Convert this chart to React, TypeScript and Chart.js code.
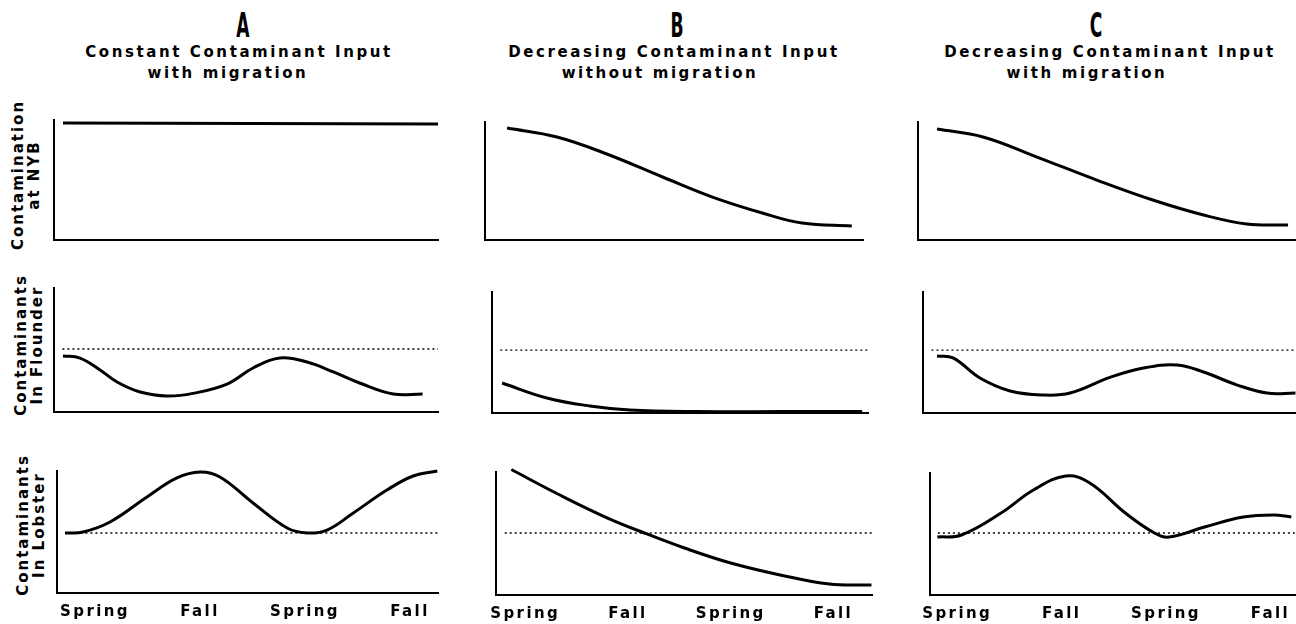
import React, { useEffect, useRef } from "react";
import { Chart, registerables } from "chart.js";

Chart.register(...registerables);

// ---------- data ----------
const seasonLabels = ["Spring", "Fall", "Spring", "Fall"];
const seasonTicks = [1, 2, 3, 4];

const columnHeads = ["A", "B", "C"];
const columnLine1 = [
  "Constant Contaminant Input",
  "Decreasing Contaminant Input",
  "Decreasing Contaminant Input",
];
const columnLine2 = ["with migration", "without migration", "with migration"];

const rowTitle1 = ["Contamination", "Contaminants", "Contaminants"];
const rowTitle2 = ["at NYB", "In Flounder", "In Lobster"];

// Column A: constant input, with migration
const aNybX = [0.695, 2.5, 4.267];
const aNybY = [0.975, 0.971, 0.967];
const aFlounderX = [0.695, 0.857, 1.048, 1.21, 1.43, 1.686, 1.933, 2.257, 2.505, 2.76, 3.02, 3.27, 3.52, 3.84, 4.12];
const aFlounderY = [0.452, 0.435, 0.339, 0.242, 0.161, 0.129, 0.15, 0.225, 0.355, 0.435, 0.403, 0.323, 0.234, 0.145, 0.145];
const aFlounderRef = 0.508;
const aLobsterX = [0.714, 0.886, 1.143, 1.495, 1.78, 2.0, 2.19, 2.505, 2.83, 3.02, 3.21, 3.46, 3.78, 4.03, 4.26];
const aLobsterY = [0.492, 0.5, 0.582, 0.787, 0.943, 0.992, 0.951, 0.738, 0.533, 0.492, 0.516, 0.656, 0.844, 0.959, 1.0];
const aLobsterRef = 0.492;

// Column B: decreasing input, without migration
const bNybX = [0.856, 1.337, 1.817, 2.356, 2.837, 3.317, 3.7, 4.18];
const bNybY = [0.949, 0.873, 0.729, 0.534, 0.364, 0.229, 0.144, 0.119];
const bFlounderX = [0.808, 1.24, 1.654, 2.04, 2.68, 3.5, 4.28];
const bFlounderY = [0.248, 0.124, 0.058, 0.025, 0.012, 0.012, 0.012];
const bFlounderRef = 0.52;
const bLobsterX = [0.865, 1.337, 1.78, 2.16, 2.55, 3.0, 3.48, 3.96, 4.37];
const bLobsterY = [1.02, 0.813, 0.634, 0.504, 0.382, 0.26, 0.163, 0.089, 0.081];
const bLobsterRef = 0.504;

// Column C: decreasing input, with migration
const cNybX = [0.849, 1.284, 1.795, 2.36, 2.89, 3.37, 3.78, 4.17];
const cNybY = [0.94, 0.873, 0.703, 0.508, 0.339, 0.212, 0.136, 0.127];
const cFlounderX = [0.849, 1.0, 1.255, 1.54, 1.85, 2.107, 2.485, 2.8, 3.12, 3.37, 3.69, 3.97, 4.24];
const cFlounderY = [0.471, 0.455, 0.289, 0.182, 0.149, 0.165, 0.295, 0.372, 0.397, 0.339, 0.231, 0.165, 0.165];
const cFlounderRef = 0.52;
const cLobsterX = [0.81, 1.04, 1.42, 1.73, 2.04, 2.27, 2.61, 2.89, 3.03, 3.37, 3.74, 4.03, 4.2];
const cLobsterY = [0.475, 0.492, 0.672, 0.861, 0.975, 0.918, 0.672, 0.508, 0.475, 0.557, 0.639, 0.656, 0.639];
const cLobsterRef = 0.508;

// ---------- layout ----------
const FONT = "'DejaVu Sans', 'Liberation Sans', sans-serif";
// first tick pixel and tick spacing per column
const colTick0 = [95, 522, 953];
const colTickStep = [105, 103.7, 105.7];
// [axisLeft, axisRight, top, bottom] per panel
const panelBoxes = [
  [[54, 438, 120, 240], [54, 438, 288, 412], [57, 438, 471, 593]],
  [[485, 863, 122, 240], [492, 868, 292, 413], [493, 872, 472, 595]],
  [[918, 1296, 122, 240], [923, 1296, 292, 413], [925, 1296, 473, 595]],
];
const headCenters = [243, 677, 1096];
const line1Centers = [239, 674, 1110];
const line2Centers = [228, 660, 1087];
const rowTitleCenters = [
  [26, 175],
  [29, 345],
  [31, 525],
];

type Series = { xs: number[]; ys: number[]; ref?: number };
const panelSeries: Series[][] = [
  [
    { xs: aNybX, ys: aNybY },
    { xs: aFlounderX, ys: aFlounderY, ref: aFlounderRef },
    { xs: aLobsterX, ys: aLobsterY, ref: aLobsterRef },
  ],
  [
    { xs: bNybX, ys: bNybY },
    { xs: bFlounderX, ys: bFlounderY, ref: bFlounderRef },
    { xs: bLobsterX, ys: bLobsterY, ref: bLobsterRef },
  ],
  [
    { xs: cNybX, ys: cNybY },
    { xs: cFlounderX, ys: cFlounderY, ref: cFlounderRef },
    { xs: cLobsterX, ys: cLobsterY, ref: cLobsterRef },
  ],
];

const PAD_L = 6;
const PAD_R = 6;
const PAD_T = 8;
const PAD_B = 4;
const X_AXIS_H = 34;

function Panel({ col, row }: { col: number; row: number }) {
  const ref = useRef<HTMLCanvasElement | null>(null);
  const [left, right, top, bottom] = panelBoxes[col][row];
  const showTicks = row === 2;
  const w = right - left + PAD_L + PAD_R;
  const h = bottom - top + PAD_T + PAD_B + (showTicks ? X_AXIS_H : 0);

  useEffect(() => {
    if (!ref.current) return;
    const s = panelSeries[col][row];
    const xMin = 1 + (left - colTick0[col]) / colTickStep[col];
    const xMax = 1 + (right - colTick0[col]) / colTickStep[col];
    const datasets: any[] = [
      {
        data: s.xs.map((x, i) => ({ x, y: s.ys[i] })),
        borderColor: "#000",
        borderWidth: 3,
        pointRadius: 0,
        tension: 0.4,
        fill: false,
        clip: false,
      },
    ];
    if (s.ref !== undefined) {
      datasets.push({
        data: [
          { x: xMin + 0.08, y: s.ref },
          { x: xMax, y: s.ref },
        ],
        borderColor: "#000",
        borderWidth: 1.3,
        borderDash: [2, 3],
        pointRadius: 0,
        tension: 0,
        fill: false,
        clip: false,
      });
    }
    const chart = new Chart(ref.current, {
      type: "line",
      data: { datasets },
      options: {
        animation: false,
        responsive: false,
        events: [],
        layout: {
          padding: {
            left: PAD_L,
            right: PAD_R,
            top: PAD_T,
            bottom: PAD_B,
          },
        },
        plugins: {
          legend: { display: false },
          tooltip: { enabled: false },
        },
        scales: {
          x: {
            type: "linear",
            min: xMin,
            max: xMax,
            grid: { display: false, drawTicks: false },
            border: { display: true, color: "#000", width: 2 },
            ticks: {
              display: showTicks,
              padding: 10,
              color: "#000",
              autoSkip: false,
              maxRotation: 0,
              font: { family: FONT, weight: "bold", size: 15 },
              callback: (v: any) => {
                const i = seasonTicks.indexOf(Number(v));
                return i >= 0 ? seasonLabels[i] : "";
              },
            },
            afterBuildTicks: (scale: any) => {
              scale.ticks = seasonTicks.map((v) => ({ value: v }));
            },
            afterFit: (scale: any) => {
              scale.height = showTicks ? X_AXIS_H : 0;
            },
          },
          y: {
            type: "linear",
            min: 0,
            max: 1,
            grid: { display: false, drawTicks: false },
            border: { display: true, color: "#000", width: 2 },
            ticks: { display: false },
            afterFit: (scale: any) => {
              scale.width = 0;
            },
          },
        },
      } as any,
      plugins: [
        {
          id: "letterSpacing",
          beforeDraw: (c: any) => {
            c.ctx.letterSpacing = "2.4px";
          },
        },
      ],
    });
    return () => chart.destroy();
  }, [col, row]);

  return (
    <canvas
      ref={ref}
      width={w}
      height={h}
      style={{
        position: "absolute",
        left: left - PAD_L,
        top: top - PAD_T,
        width: w,
        height: h,
      }}
    />
  );
}

const textBase: React.CSSProperties = {
  position: "absolute",
  fontFamily: FONT,
  fontWeight: "bold",
  color: "#000",
  whiteSpace: "nowrap",
  textAlign: "center",
};

export default function App() {
  const panels: JSX.Element[] = [];
  for (let c = 0; c < 3; c++) {
    for (let r = 0; r < 3; r++) {
      panels.push(<Panel key={`${c}-${r}`} col={c} row={r} />);
    }
  }
  return (
    <div
      style={{
        position: "absolute",
        left: 0,
        top: 0,
        width: 1296,
        height: 624,
        background: "#fff",
        overflow: "hidden",
      }}
    >
      {columnHeads.map((t, i) => (
        <div
          key={"h" + i}
          style={{
            ...textBase,
            left: headCenters[i] - 50,
            width: 100,
            top: 9,
            fontSize: 33,
            lineHeight: "33px",
            transform: "scaleX(0.52)",
          }}
        >
          {t}
        </div>
      ))}
      {columnLine1.map((t, i) => (
        <div
          key={"l1" + i}
          style={{
            ...textBase,
            left: line1Centers[i] - 250,
            width: 500,
            top: 45,
            fontSize: 15,
            lineHeight: "15px",
            letterSpacing: "2.6px",
          }}
        >
          {t}
        </div>
      ))}
      {columnLine2.map((t, i) => (
        <div
          key={"l2" + i}
          style={{
            ...textBase,
            left: line2Centers[i] - 250,
            width: 500,
            top: 66,
            fontSize: 15,
            lineHeight: "15px",
            letterSpacing: "2.6px",
          }}
        >
          {t}
        </div>
      ))}
      {rowTitle1.map((t, i) => (
        <div
          key={"rt" + i}
          style={{
            ...textBase,
            left: rowTitleCenters[i][0] - 100,
            top: rowTitleCenters[i][1] - 16,
            width: 200,
            height: 32,
            fontSize: 15,
            lineHeight: "16px",
            letterSpacing: "2px",
            transform: "rotate(-90deg)",
          }}
        >
          {t}
          <br />
          {rowTitle2[i]}
        </div>
      ))}
      {panels}
    </div>
  );
}
